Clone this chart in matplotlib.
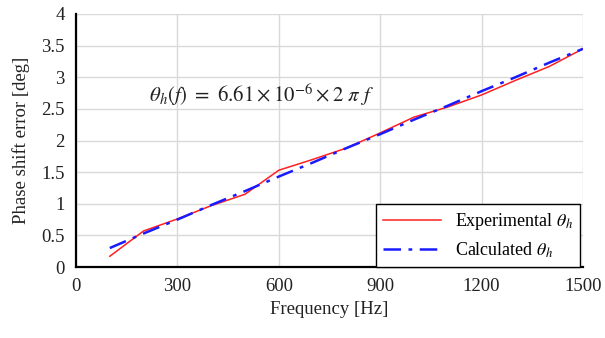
import matplotlib
matplotlib.use("Agg")
import matplotlib.pyplot as plt

freq = [100, 200, 300, 400, 500, 600, 700, 800, 900, 1000, 1100, 1200, 1300, 1400, 1500]
experimental = [0.17, 0.57, 0.76, 0.97, 1.15, 1.53, 1.70, 1.88, 2.12, 2.37, 2.53, 2.72, 2.95, 3.17, 3.45]
calculated = [0.30, 0.53, 0.75, 0.98, 1.20, 1.43, 1.65, 1.88, 2.10, 2.33, 2.55, 2.78, 3.00, 3.23, 3.45]
xticks = [0, 300, 600, 900, 1200, 1500]
yticks = [0, 0.5, 1, 1.5, 2, 2.5, 3, 3.5, 4]
ytick_labels = ["0", "0.5", "1", "1.5", "2", "2.5", "3", "3.5", "4"]

plt.rcParams['font.family'] = ['Liberation Serif', 'DejaVu Serif']
plt.rcParams['mathtext.fontset'] = 'stix'

fig = plt.figure(figsize=(6.05, 3.38), dpi=100)
ax = fig.add_axes([0.1256, 0.210, 0.838, 0.7486])

ax.plot(freq, experimental, color='#ff2020', lw=1.1, label=r'Experimental $\theta_h$', zorder=3)
ax.plot(freq, calculated, color='#1a1aff', lw=1.8, dashes=(7, 3, 1.5, 3),
        label=r'Calculated $\theta_h$', zorder=4)

ax.set_xlim(0, 1500)
ax.set_ylim(0, 4)
ax.set_xticks(xticks)
ax.set_yticks(yticks)
ax.set_yticklabels(ytick_labels)
ax.grid(True, color='#d9d9d9', lw=1.0)
ax.set_axisbelow(True)
for s in ['top', 'right']:
    ax.spines[s].set_visible(False)
for s in ['left', 'bottom']:
    ax.spines[s].set_linewidth(1.6)
    ax.spines[s].set_color('black')
ax.tick_params(length=0, labelsize=13.5, pad=8, colors='#222222')

ax.set_xlabel('Frequency [Hz]', fontsize=13.5, color='#222222', labelpad=4)
ax.set_ylabel('Phase shift error [deg]', fontsize=13.5, color='#222222', labelpad=8)

ax.text(215, 2.72, r'$\theta_h(f)\ =\ 6.61 \times 10^{-6} \times 2\ \pi\ f$',
        fontsize=15, va='center', ha='left', color='#222222')

leg = ax.legend(loc='lower right', bbox_to_anchor=(0.995, 0.0), fontsize=13,
                frameon=True, fancybox=False, edgecolor='black', framealpha=1,
                borderpad=0.4, handlelength=3.2, labelspacing=0.45, borderaxespad=0)
leg.get_frame().set_linewidth(1.0)

fig.savefig('out.png', dpi=100)
